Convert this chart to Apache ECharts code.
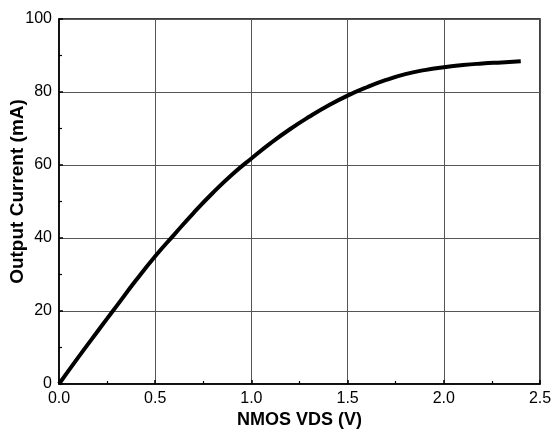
<!DOCTYPE html>
<html>
<head>
<meta charset="utf-8">
<script src="https://cdn.jsdelivr.net/npm/echarts@6/dist/echarts.min.js"></script>
<style>
  html, body { margin: 0; padding: 0; background: #fff; }
  #chart { width: 551px; height: 443px; }
</style>
</head>
<body>
<div id="chart"></div>
<script>
var vds = [0, 0.1, 0.2, 0.25, 0.3, 0.4, 0.5, 0.6, 0.7, 0.8, 0.9, 1.0, 1.1, 1.2, 1.3, 1.4, 1.5, 1.6, 1.7, 1.8, 1.9, 2.0, 2.1, 2.2, 2.3, 2.4];
var current = [0, 7.3, 14.4, 17.9, 21.4, 28.4, 35, 41, 46.9, 52.4, 57.4, 61.8, 66, 69.8, 73.2, 76.3, 79, 81.3, 83.3, 84.9, 86.0, 86.8, 87.4, 87.8, 88.1, 88.4];

var chart = echarts.init(document.getElementById('chart'));

var points = [];
for (var i = 0; i < vds.length; i++) {
    points.push([vds[i], current[i]]);
}

var font = "'Liberation Sans', Arial, sans-serif";

chart.setOption({
    animation: false,
    grid: {
        left: 59, top: 19, right: 11, bottom: 59,
        outerBoundsMode: 'none', containLabel: false,
        show: true, borderColor: '#000', borderWidth: 1.5, backgroundColor: 'transparent'
    },
    xAxis: {
        type: 'value', min: 0, max: 2.5, interval: 0.5,
        name: 'NMOS VDS (V)', nameLocation: 'middle', nameGap: 27, nameMoveOverlap: false,
        nameTextStyle: { fontFamily: font, fontWeight: 'bold', fontSize: 18, color: '#000' },
        axisLine: { lineStyle: { color: '#000', width: 1.5 } },
        axisTick: { inside: true, length: 4, lineStyle: { color: '#000', width: 1.5 } },
        minorTick: { show: true, splitNumber: 2, length: 3, lineStyle: { color: '#000', width: 1.2 } },
        axisLabel: {
            fontFamily: font, fontSize: 16, color: '#000', margin: 7,
            formatter: function (v) { return v.toFixed(1); }
        },
        splitLine: { show: true, lineStyle: { color: '#555', width: 1 } }
    },
    yAxis: {
        type: 'value', min: 0, max: 100, interval: 20,
        name: 'Output Current (mA)', nameLocation: 'middle', nameGap: 32, nameMoveOverlap: false,
        nameTextStyle: { fontFamily: font, fontWeight: 'bold', fontSize: 19, color: '#000', padding: [0, 0, 0, 20] },
        axisLine: { show: true, lineStyle: { color: '#000', width: 1.5 } },
        axisTick: { show: true, inside: true, length: 4, lineStyle: { color: '#000', width: 1.5 } },
        minorTick: { show: true, splitNumber: 2, length: 3, lineStyle: { color: '#000', width: 1.2 } },
        axisLabel: { fontFamily: font, fontSize: 16, color: '#000', margin: 7 },
        splitLine: { show: true, lineStyle: { color: '#555', width: 1 } }
    },
    series: [{
        type: 'line',
        data: points,
        smooth: true,
        showSymbol: false,
        lineStyle: { color: '#000', width: 4 }
    }]
});
</script>
</body>
</html>
